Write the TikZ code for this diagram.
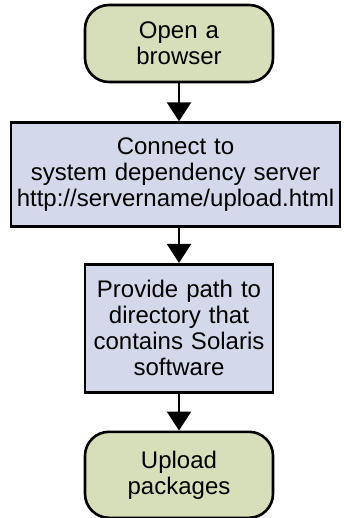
\documentclass[tikz,border=0pt]{standalone}
\usepackage{fontspec}
\setmainfont{Liberation Sans}
\usetikzlibrary{positioning,arrows.meta}

\definecolor{termgreen}{RGB}{214,223,185}
\definecolor{stepblue}{RGB}{211,217,234}

\tikzset{
block/.style = {draw, line width=2.6pt, rectangle, fill=stepblue, text width=180pt, inner xsep=4pt, inner ysep=0pt, align=center, font=\fontsize{24}{26}\selectfont},}

\begin{document}
\begin{tikzpicture}
    \tikzset{terminal/.style={block, fill=termgreen, rounded corners=24pt},
             flow/.style={line width=2.6pt, -{Triangle[width=24pt,length=19pt]}}}
    \useasboundingbox (0,0) rectangle (343pt,-518pt);
    \node[terminal, minimum height=77pt] (open) at (179pt,-43.5pt) {Open a\\browser};
    \node[block, text width=321pt, minimum height=104pt, below=38pt of open, xshift=-3.5pt] (connect) {Connect to\\system dependency server\\http://servername/upload.html};
    \node[block, minimum height=128pt, below=35pt of connect, xshift=3.5pt] (provide) {Provide path to\\directory that\\contains Solaris\\software};
    \node[terminal, minimum height=86pt, below=37pt of provide] (upload) {Upload\\packages};
    \draw[flow] (open.south) -- (open.south |- connect.north);
    \draw[flow] (open.south |- connect.south) -- (provide.north);
    \draw[flow] (provide.south) -- (upload.north);
\end{tikzpicture}
\end{document}
